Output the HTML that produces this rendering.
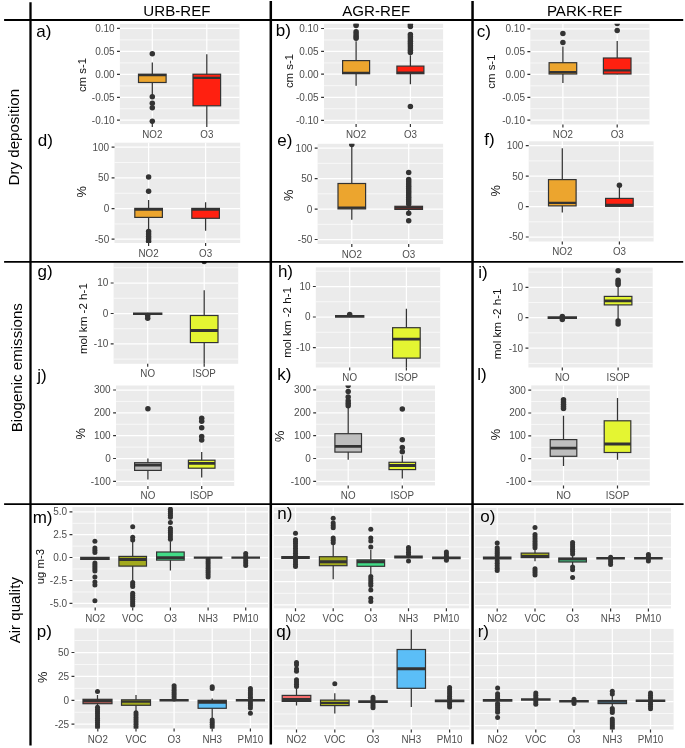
<!DOCTYPE html>
<html lang="en">
<head>
<meta charset="utf-8">
<title>Boxplots: dry deposition, biogenic emissions, air quality</title>
<style>
html,body{margin:0;padding:0;background:#fff;}
body{width:685px;height:748px;overflow:hidden;font-family:"Liberation Sans",Arial,Helvetica,sans-serif;}
svg{display:block;}
</style>
</head>
<body>
<svg width="685" height="748" viewBox="0 0 685 748" font-family="'Liberation Sans', Arial, Helvetica, sans-serif">
<rect width="685" height="748" fill="#fff"/>
<g>
<clipPath id="c1"><rect x="119.9" y="23.9" width="119.6" height="100.2"/></clipPath>
<rect x="119.9" y="23.9" width="119.6" height="100.2" fill="#ebebeb"/>
<path d="M119.9 39.88H239.5M119.9 62.88H239.5M119.9 85.88H239.5M119.9 108.78H239.5" stroke="#fff" stroke-opacity="0.95" stroke-width="0.7" fill="none"/>
<path d="M119.9 28.4H239.5M119.9 51.4H239.5M119.9 74.4H239.5M119.9 97.3H239.5M119.9 120.2H239.5M152.3 23.9V124.1M206.8 23.9V124.1" stroke="#fff" stroke-width="1.25" fill="none"/>
<path d="M117 28.4H119.9M117 51.4H119.9M117 74.4H119.9M117 97.3H119.9M117 120.2H119.9M152.3 124.1V127.1M206.8 124.1V127.1" stroke="#333333" stroke-width="1.2" fill="none"/>
<g font-size="10" fill="#4d4d4d" text-anchor="end">
<text x="114.6" y="31.8">0.10</text>
<text x="114.6" y="54.8">0.05</text>
<text x="114.6" y="77.8">0.00</text>
<text x="114.6" y="100.7">-0.05</text>
<text x="114.6" y="123.6">-0.10</text>
</g>
<g font-size="9.8" fill="#4d4d4d" text-anchor="middle">
<text transform="translate(152.3 138.1) scale(1 1.05)">NO2</text>
<text transform="translate(206.8 138.1) scale(1 1.05)">O3</text>
</g>
<text transform="translate(86.3 75) rotate(-90)" font-size="11.4" fill="#111" text-anchor="middle">cm s-1</text>
<g clip-path="url(#c1)">
<path d="M152.3 62.4V96.8" stroke="#333333" stroke-width="1.25" fill="none"/>
<circle cx="152.3" cy="53.8" r="2.75" fill="#333333"/>
<circle cx="152.3" cy="96.8" r="2.75" fill="#333333"/>
<circle cx="152.3" cy="103.3" r="2.75" fill="#333333"/>
<circle cx="152.3" cy="107.8" r="2.75" fill="#333333"/>
<circle cx="152.3" cy="121.3" r="2.75" fill="#333333"/>
<rect x="138.5" y="74.2" width="27.6" height="8.3" fill="#eca52e" stroke="#333333" stroke-width="1.2"/>
<path d="M138.5 75.2H166.1" stroke="#333333" stroke-width="2.3" fill="none"/>
<path d="M206.8 54.3V126.7" stroke="#333333" stroke-width="1.25" fill="none"/>
<rect x="193" y="74.2" width="27.6" height="31.6" fill="#ff2010" stroke="#333333" stroke-width="1.2"/>
<path d="M193 77.9H220.6" stroke="#333333" stroke-width="2.3" fill="none"/>
</g>
</g>
<g>
<clipPath id="c2"><rect x="114.5" y="142.7" width="125.7" height="100.3"/></clipPath>
<rect x="114.5" y="142.7" width="125.7" height="100.3" fill="#ebebeb"/>
<path d="M114.5 162.45H240.2M114.5 193.25H240.2M114.5 223.95H240.2" stroke="#fff" stroke-opacity="0.95" stroke-width="0.7" fill="none"/>
<path d="M114.5 147.1H240.2M114.5 177.9H240.2M114.5 208.6H240.2M114.5 239.2H240.2M148.6 142.7V243M205.6 142.7V243" stroke="#fff" stroke-width="1.25" fill="none"/>
<path d="M111.6 147.1H114.5M111.6 177.9H114.5M111.6 208.6H114.5M111.6 239.2H114.5M148.6 243V246M205.6 243V246" stroke="#333333" stroke-width="1.2" fill="none"/>
<g font-size="10" fill="#4d4d4d" text-anchor="end">
<text x="109.2" y="150.5">100</text>
<text x="109.2" y="181.3">50</text>
<text x="109.2" y="212">0</text>
<text x="109.2" y="242.6">-50</text>
</g>
<g font-size="9.8" fill="#4d4d4d" text-anchor="middle">
<text transform="translate(148.6 256.6) scale(1 1.05)">NO2</text>
<text transform="translate(205.6 256.6) scale(1 1.05)">O3</text>
</g>
<text transform="translate(86.3 191.8) rotate(-90)" font-size="12.8" fill="#111" text-anchor="middle">%</text>
<g clip-path="url(#c2)">
<path d="M148.6 200V231" stroke="#333333" stroke-width="1.25" fill="none"/>
<circle cx="148.6" cy="177" r="2.75" fill="#333333"/>
<circle cx="148.6" cy="191.3" r="2.75" fill="#333333"/>
<circle cx="148.6" cy="231.5" r="2.75" fill="#333333"/>
<circle cx="148.6" cy="233.95" r="2.75" fill="#333333"/>
<circle cx="148.6" cy="236.4" r="2.75" fill="#333333"/>
<circle cx="148.6" cy="238.85" r="2.75" fill="#333333"/>
<circle cx="148.6" cy="241.3" r="2.75" fill="#333333"/>
<rect x="134.8" y="208.4" width="27.6" height="9" fill="#eca52e" stroke="#333333" stroke-width="1.2"/>
<path d="M134.8 209.6H162.4" stroke="#333333" stroke-width="2.3" fill="none"/>
<path d="M205.6 202.3V230.8" stroke="#333333" stroke-width="1.25" fill="none"/>
<rect x="191.8" y="208.4" width="27.6" height="9.9" fill="#ff2010" stroke="#333333" stroke-width="1.2"/>
<path d="M191.8 209.6H219.4" stroke="#333333" stroke-width="2.3" fill="none"/>
</g>
</g>
<g>
<clipPath id="c3"><rect x="324" y="23.8" width="119.1" height="100.2"/></clipPath>
<rect x="324" y="23.8" width="119.1" height="100.2" fill="#ebebeb"/>
<path d="M324 39.98H443.1M324 62.93H443.1M324 85.67H443.1M324 108.77H443.1" stroke="#fff" stroke-opacity="0.95" stroke-width="0.7" fill="none"/>
<path d="M324 28.5H443.1M324 51.45H443.1M324 74.2H443.1M324 97.3H443.1M324 120.3H443.1M356.1 23.8V124M410.4 23.8V124" stroke="#fff" stroke-width="1.25" fill="none"/>
<path d="M321.1 28.5H324M321.1 51.45H324M321.1 74.2H324M321.1 97.3H324M321.1 120.3H324M356.1 124V127M410.4 124V127" stroke="#333333" stroke-width="1.2" fill="none"/>
<g font-size="10" fill="#4d4d4d" text-anchor="end">
<text x="318.7" y="31.9">0.10</text>
<text x="318.7" y="54.85">0.05</text>
<text x="318.7" y="77.6">0.00</text>
<text x="318.7" y="100.7">-0.05</text>
<text x="318.7" y="123.7">-0.10</text>
</g>
<g font-size="9.8" fill="#4d4d4d" text-anchor="middle">
<text transform="translate(356.1 138.1) scale(1 1.05)">NO2</text>
<text transform="translate(410.4 138.1) scale(1 1.05)">O3</text>
</g>
<text transform="translate(292.6 71) rotate(-90)" font-size="11.4" fill="#111" text-anchor="middle">cm s-1</text>
<g clip-path="url(#c3)">
<path d="M356.1 41.3V85.7" stroke="#333333" stroke-width="1.25" fill="none"/>
<circle cx="356.1" cy="24" r="2.75" fill="#333333"/>
<circle cx="356.1" cy="25.6" r="2.75" fill="#333333"/>
<circle cx="356.1" cy="31.8" r="2.75" fill="#333333"/>
<circle cx="356.1" cy="33.97" r="2.75" fill="#333333"/>
<circle cx="356.1" cy="36.13" r="2.75" fill="#333333"/>
<circle cx="356.1" cy="38.3" r="2.75" fill="#333333"/>
<rect x="342.6" y="60.6" width="27" height="13.1" fill="#eca52e" stroke="#333333" stroke-width="1.2"/>
<path d="M342.6 72.9H369.6" stroke="#333333" stroke-width="2.3" fill="none"/>
<path d="M410.4 55.3V84.2" stroke="#333333" stroke-width="1.25" fill="none"/>
<circle cx="410.4" cy="24.5" r="2.75" fill="#333333"/>
<circle cx="410.4" cy="26.5" r="2.75" fill="#333333"/>
<circle cx="410.4" cy="34.4" r="2.75" fill="#333333"/>
<circle cx="410.4" cy="36.66" r="2.75" fill="#333333"/>
<circle cx="410.4" cy="38.92" r="2.75" fill="#333333"/>
<circle cx="410.4" cy="41.19" r="2.75" fill="#333333"/>
<circle cx="410.4" cy="43.45" r="2.75" fill="#333333"/>
<circle cx="410.4" cy="45.71" r="2.75" fill="#333333"/>
<circle cx="410.4" cy="47.98" r="2.75" fill="#333333"/>
<circle cx="410.4" cy="50.24" r="2.75" fill="#333333"/>
<circle cx="410.4" cy="52.5" r="2.75" fill="#333333"/>
<circle cx="410.4" cy="106.4" r="2.75" fill="#333333"/>
<rect x="396.9" y="66.1" width="27" height="7.6" fill="#ff2010" stroke="#333333" stroke-width="1.2"/>
<path d="M396.9 72.7H423.9" stroke="#333333" stroke-width="2.3" fill="none"/>
</g>
</g>
<g>
<clipPath id="c4"><rect x="317.6" y="143.8" width="125.5" height="100.2"/></clipPath>
<rect x="317.6" y="143.8" width="125.5" height="100.2" fill="#ebebeb"/>
<path d="M317.6 163.33H443.1M317.6 193.83H443.1M317.6 224.33H443.1" stroke="#fff" stroke-opacity="0.95" stroke-width="0.7" fill="none"/>
<path d="M317.6 148.1H443.1M317.6 178.6H443.1M317.6 209.1H443.1M317.6 239.5H443.1M351.8 143.8V244M408.7 143.8V244" stroke="#fff" stroke-width="1.25" fill="none"/>
<path d="M314.7 148.1H317.6M314.7 178.6H317.6M314.7 209.1H317.6M314.7 239.5H317.6M351.8 244V247M408.7 244V247" stroke="#333333" stroke-width="1.2" fill="none"/>
<g font-size="10" fill="#4d4d4d" text-anchor="end">
<text x="312.3" y="151.5">100</text>
<text x="312.3" y="182">50</text>
<text x="312.3" y="212.5">0</text>
<text x="312.3" y="242.9">-50</text>
</g>
<g font-size="9.8" fill="#4d4d4d" text-anchor="middle">
<text transform="translate(351.8 257.7) scale(1 1.05)">NO2</text>
<text transform="translate(408.7 257.7) scale(1 1.05)">O3</text>
</g>
<text transform="translate(293.3 195.4) rotate(-90)" font-size="12.8" fill="#111" text-anchor="middle">%</text>
<g clip-path="url(#c4)">
<path d="M351.8 143.8V219.7" stroke="#333333" stroke-width="1.25" fill="none"/>
<circle cx="351.8" cy="144.5" r="2.75" fill="#333333"/>
<rect x="338" y="183.5" width="27.6" height="25.4" fill="#eca52e" stroke="#333333" stroke-width="1.2"/>
<path d="M338 207.6H365.6" stroke="#333333" stroke-width="2.3" fill="none"/>
<path d="M408.7 203V211" stroke="#333333" stroke-width="1.25" fill="none"/>
<circle cx="408.7" cy="172.4" r="2.75" fill="#333333"/>
<circle cx="408.7" cy="179.5" r="2.75" fill="#333333"/>
<circle cx="408.7" cy="181.73" r="2.75" fill="#333333"/>
<circle cx="408.7" cy="183.95" r="2.75" fill="#333333"/>
<circle cx="408.7" cy="186.18" r="2.75" fill="#333333"/>
<circle cx="408.7" cy="188.41" r="2.75" fill="#333333"/>
<circle cx="408.7" cy="190.64" r="2.75" fill="#333333"/>
<circle cx="408.7" cy="192.86" r="2.75" fill="#333333"/>
<circle cx="408.7" cy="195.09" r="2.75" fill="#333333"/>
<circle cx="408.7" cy="197.32" r="2.75" fill="#333333"/>
<circle cx="408.7" cy="199.55" r="2.75" fill="#333333"/>
<circle cx="408.7" cy="201.77" r="2.75" fill="#333333"/>
<circle cx="408.7" cy="204" r="2.75" fill="#333333"/>
<circle cx="408.7" cy="213.2" r="2.75" fill="#333333"/>
<circle cx="408.7" cy="220.8" r="2.75" fill="#333333"/>
<rect x="394.9" y="206.3" width="27.6" height="3.1" fill="#ff2010" stroke="#333333" stroke-width="1.2"/>
<path d="M394.9 207.7H422.5" stroke="#333333" stroke-width="1.9" fill="none"/>
</g>
</g>
<g>
<clipPath id="c5"><rect x="530.3" y="23.8" width="119.2" height="100.7"/></clipPath>
<rect x="530.3" y="23.8" width="119.2" height="100.7" fill="#ebebeb"/>
<path d="M530.3 40.21H649.5M530.3 63.01H649.5M530.3 85.81H649.5M530.3 108.71H649.5" stroke="#fff" stroke-opacity="0.95" stroke-width="0.7" fill="none"/>
<path d="M530.3 28.8H649.5M530.3 51.6H649.5M530.3 74.4H649.5M530.3 97.3H649.5M530.3 120.1H649.5M562.9 23.8V124.5M617.2 23.8V124.5" stroke="#fff" stroke-width="1.25" fill="none"/>
<path d="M527.4 28.8H530.3M527.4 51.6H530.3M527.4 74.4H530.3M527.4 97.3H530.3M527.4 120.1H530.3M562.9 124.5V127.5M617.2 124.5V127.5" stroke="#333333" stroke-width="1.2" fill="none"/>
<g font-size="10" fill="#4d4d4d" text-anchor="end">
<text x="525" y="32.2">0.10</text>
<text x="525" y="55">0.05</text>
<text x="525" y="77.8">0.00</text>
<text x="525" y="100.7">-0.05</text>
<text x="525" y="123.5">-0.10</text>
</g>
<g font-size="9.8" fill="#4d4d4d" text-anchor="middle">
<text transform="translate(562.9 138.4) scale(1 1.05)">NO2</text>
<text transform="translate(617.2 138.4) scale(1 1.05)">O3</text>
</g>
<text transform="translate(495 71.6) rotate(-90)" font-size="11.4" fill="#111" text-anchor="middle">cm s-1</text>
<g clip-path="url(#c5)">
<path d="M562.9 46.4V83.1" stroke="#333333" stroke-width="1.25" fill="none"/>
<circle cx="562.9" cy="33.5" r="2.75" fill="#333333"/>
<circle cx="562.9" cy="42.6" r="2.75" fill="#333333"/>
<rect x="549.1" y="62.7" width="27.6" height="11.3" fill="#eca52e" stroke="#333333" stroke-width="1.2"/>
<path d="M549.1 72.2H576.7" stroke="#333333" stroke-width="2.3" fill="none"/>
<path d="M617.2 41V74.3" stroke="#333333" stroke-width="1.25" fill="none"/>
<circle cx="617.2" cy="30.4" r="2.75" fill="#333333"/>
<circle cx="617.2" cy="23.4" r="2.75" fill="#333333"/>
<rect x="603.4" y="58" width="27.6" height="16" fill="#ff2010" stroke="#333333" stroke-width="1.2"/>
<path d="M603.4 70.3H631" stroke="#333333" stroke-width="2.3" fill="none"/>
</g>
</g>
<g>
<clipPath id="c6"><rect x="528.7" y="141.3" width="124.9" height="100.2"/></clipPath>
<rect x="528.7" y="141.3" width="124.9" height="100.2" fill="#ebebeb"/>
<path d="M528.7 160.92H653.6M528.7 191.32H653.6M528.7 221.82H653.6" stroke="#fff" stroke-opacity="0.95" stroke-width="0.7" fill="none"/>
<path d="M528.7 145.7H653.6M528.7 176.1H653.6M528.7 206.6H653.6M528.7 237H653.6M562.3 141.3V241.5M619.4 141.3V241.5" stroke="#fff" stroke-width="1.25" fill="none"/>
<path d="M525.8 145.7H528.7M525.8 176.1H528.7M525.8 206.6H528.7M525.8 237H528.7M562.3 241.5V244.5M619.4 241.5V244.5" stroke="#333333" stroke-width="1.2" fill="none"/>
<g font-size="10" fill="#4d4d4d" text-anchor="end">
<text x="523.4" y="149.1">100</text>
<text x="523.4" y="179.5">50</text>
<text x="523.4" y="210">0</text>
<text x="523.4" y="240.4">-50</text>
</g>
<g font-size="9.8" fill="#4d4d4d" text-anchor="middle">
<text transform="translate(562.3 255.1) scale(1 1.05)">NO2</text>
<text transform="translate(619.4 255.1) scale(1 1.05)">O3</text>
</g>
<text transform="translate(500.4 190.9) rotate(-90)" font-size="12.8" fill="#111" text-anchor="middle">%</text>
<g clip-path="url(#c6)">
<path d="M562.3 148.2V212.5" stroke="#333333" stroke-width="1.25" fill="none"/>
<rect x="548.5" y="179.6" width="27.6" height="26.3" fill="#eca52e" stroke="#333333" stroke-width="1.2"/>
<path d="M548.5 202.8H576.1" stroke="#333333" stroke-width="2.3" fill="none"/>
<path d="M619.4 185.2V206.6" stroke="#333333" stroke-width="1.25" fill="none"/>
<circle cx="619.4" cy="185.2" r="2.75" fill="#333333"/>
<rect x="605.6" y="198.4" width="27.6" height="7.9" fill="#ff2010" stroke="#333333" stroke-width="1.2"/>
<path d="M605.6 205H633.2" stroke="#333333" stroke-width="2.3" fill="none"/>
</g>
</g>
<g>
<clipPath id="c7"><rect x="113.6" y="261.9" width="124.6" height="101.9"/></clipPath>
<rect x="113.6" y="263" width="124.6" height="100.8" fill="#ebebeb"/>
<path d="M113.6 267.77H238.2M113.6 298.23H238.2M113.6 328.73H238.2M113.6 359.12H238.2" stroke="#fff" stroke-opacity="0.95" stroke-width="0.7" fill="none"/>
<path d="M113.6 283H238.2M113.6 313.5H238.2M113.6 343.9H238.2M147.7 263V363.8M204.2 263V363.8" stroke="#fff" stroke-width="1.25" fill="none"/>
<path d="M110.7 283H113.6M110.7 313.5H113.6M110.7 343.9H113.6M147.7 363.8V366.8M204.2 363.8V366.8" stroke="#333333" stroke-width="1.2" fill="none"/>
<g font-size="10" fill="#4d4d4d" text-anchor="end">
<text x="108.3" y="286.4">10</text>
<text x="108.3" y="316.9">0</text>
<text x="108.3" y="347.3">-10</text>
</g>
<g font-size="9.8" fill="#4d4d4d" text-anchor="middle">
<text transform="translate(147.7 377.3) scale(1 1.05)">NO</text>
<text transform="translate(204.2 377.3) scale(1 1.05)">ISOP</text>
</g>
<text transform="translate(86.9 318.6) rotate(-90)" font-size="11.6" fill="#111" text-anchor="middle">mol km -2 h-1</text>
<g clip-path="url(#c7)">
<circle cx="147.7" cy="315.5" r="2.75" fill="#333333"/>
<circle cx="147.7" cy="318.2" r="2.75" fill="#333333"/>
<path d="M133 313.7H162.4" stroke="#333333" stroke-width="2.6" fill="none"/>
<path d="M204.2 290.2V366.6" stroke="#333333" stroke-width="1.25" fill="none"/>
<circle cx="204.2" cy="261.5" r="2.75" fill="#333333"/>
<rect x="190.4" y="315.5" width="27.6" height="27.1" fill="#e4f532" stroke="#333333" stroke-width="1.2"/>
<path d="M190.4 330.5H218" stroke="#333333" stroke-width="2.8" fill="none"/>
</g>
</g>
<g>
<clipPath id="c8"><rect x="116" y="385.5" width="118.2" height="100.5"/></clipPath>
<rect x="116" y="385.5" width="118.2" height="100.5" fill="#ebebeb"/>
<path d="M116 401.43H234.2M116 424.23H234.2M116 447.12H234.2M116 469.93H234.2" stroke="#fff" stroke-opacity="0.95" stroke-width="0.7" fill="none"/>
<path d="M116 390H234.2M116 412.8H234.2M116 435.7H234.2M116 458.5H234.2M116 481.4H234.2M147.9 385.5V486M201.7 385.5V486" stroke="#fff" stroke-width="1.25" fill="none"/>
<path d="M113.1 390H116M113.1 412.8H116M113.1 435.7H116M113.1 458.5H116M113.1 481.4H116M147.9 486V489M201.7 486V489" stroke="#333333" stroke-width="1.2" fill="none"/>
<g font-size="10" fill="#4d4d4d" text-anchor="end">
<text x="110.7" y="393.4">300</text>
<text x="110.7" y="416.2">200</text>
<text x="110.7" y="439.1">100</text>
<text x="110.7" y="461.9">0</text>
<text x="110.7" y="484.8">-100</text>
</g>
<g font-size="9.8" fill="#4d4d4d" text-anchor="middle">
<text transform="translate(147.9 499.3) scale(1 1.05)">NO</text>
<text transform="translate(201.7 499.3) scale(1 1.05)">ISOP</text>
</g>
<text transform="translate(84.6 433.8) rotate(-90)" font-size="12.8" fill="#111" text-anchor="middle">%</text>
<g clip-path="url(#c8)">
<path d="M147.9 458.5V479.6" stroke="#333333" stroke-width="1.25" fill="none"/>
<circle cx="147.9" cy="408.8" r="2.75" fill="#333333"/>
<rect x="134.6" y="462.7" width="26.6" height="7.7" fill="#bebebe" stroke="#333333" stroke-width="1.2"/>
<path d="M134.6 465.2H161.2" stroke="#333333" stroke-width="2.8" fill="none"/>
<path d="M201.7 452.1V477.6" stroke="#333333" stroke-width="1.25" fill="none"/>
<circle cx="201.7" cy="418.3" r="2.75" fill="#333333"/>
<circle cx="201.7" cy="421.3" r="2.75" fill="#333333"/>
<circle cx="201.7" cy="427.7" r="2.75" fill="#333333"/>
<circle cx="201.7" cy="436.6" r="2.75" fill="#333333"/>
<circle cx="201.7" cy="439.9" r="2.75" fill="#333333"/>
<rect x="188.4" y="460.2" width="26.6" height="8" fill="#e4f532" stroke="#333333" stroke-width="1.2"/>
<path d="M188.4 463.4H215" stroke="#333333" stroke-width="2.8" fill="none"/>
</g>
</g>
<g>
<clipPath id="c9"><rect x="315.8" y="267.3" width="124.4" height="100.2"/></clipPath>
<rect x="315.8" y="267.3" width="124.4" height="100.2" fill="#ebebeb"/>
<path d="M315.8 271.23H440.2M315.8 301.77H440.2M315.8 332.27H440.2M315.8 362.88H440.2" stroke="#fff" stroke-opacity="0.95" stroke-width="0.7" fill="none"/>
<path d="M315.8 286.5H440.2M315.8 317H440.2M315.8 347.6H440.2M349.7 267.3V367.5M406.4 267.3V367.5" stroke="#fff" stroke-width="1.25" fill="none"/>
<path d="M312.9 286.5H315.8M312.9 317H315.8M312.9 347.6H315.8M349.7 367.5V370.5M406.4 367.5V370.5" stroke="#333333" stroke-width="1.2" fill="none"/>
<g font-size="10" fill="#4d4d4d" text-anchor="end">
<text x="310.5" y="289.9">10</text>
<text x="310.5" y="320.4">0</text>
<text x="310.5" y="351">-10</text>
</g>
<g font-size="9.8" fill="#4d4d4d" text-anchor="middle">
<text transform="translate(349.7 381.1) scale(1 1.05)">NO</text>
<text transform="translate(406.4 381.1) scale(1 1.05)">ISOP</text>
</g>
<text transform="translate(291 322.4) rotate(-90)" font-size="11.6" fill="#111" text-anchor="middle">mol km -2 h-1</text>
<g clip-path="url(#c9)">
<circle cx="349.7" cy="314.6" r="2.75" fill="#333333"/>
<path d="M335 316.4H364.4" stroke="#333333" stroke-width="2.6" fill="none"/>
<path d="M406.4 308.7V370.3" stroke="#333333" stroke-width="1.25" fill="none"/>
<rect x="392.6" y="327.7" width="27.6" height="30.4" fill="#e4f532" stroke="#333333" stroke-width="1.2"/>
<path d="M392.6 339.1H420.2" stroke="#333333" stroke-width="2.8" fill="none"/>
</g>
</g>
<g>
<clipPath id="c10"><rect x="316.1" y="385.5" width="118.9" height="100"/></clipPath>
<rect x="316.1" y="385.5" width="118.9" height="100" fill="#ebebeb"/>
<path d="M316.1 401.32H435M316.1 424.23H435M316.1 447.12H435M316.1 469.93H435" stroke="#fff" stroke-opacity="0.95" stroke-width="0.7" fill="none"/>
<path d="M316.1 389.9H435M316.1 412.8H435M316.1 435.7H435M316.1 458.5H435M316.1 481.3H435M348.2 385.5V485.5M402.3 385.5V485.5" stroke="#fff" stroke-width="1.25" fill="none"/>
<path d="M313.2 389.9H316.1M313.2 412.8H316.1M313.2 435.7H316.1M313.2 458.5H316.1M313.2 481.3H316.1M348.2 485.5V488.5M402.3 485.5V488.5" stroke="#333333" stroke-width="1.2" fill="none"/>
<g font-size="10" fill="#4d4d4d" text-anchor="end">
<text x="310.8" y="393.3">300</text>
<text x="310.8" y="416.2">200</text>
<text x="310.8" y="439.1">100</text>
<text x="310.8" y="461.9">0</text>
<text x="310.8" y="484.7">-100</text>
</g>
<g font-size="9.8" fill="#4d4d4d" text-anchor="middle">
<text transform="translate(348.2 499.3) scale(1 1.05)">NO</text>
<text transform="translate(402.3 499.3) scale(1 1.05)">ISOP</text>
</g>
<text transform="translate(284 436.3) rotate(-90)" font-size="12.8" fill="#111" text-anchor="middle">%</text>
<g clip-path="url(#c10)">
<path d="M348.2 407.1V459.7" stroke="#333333" stroke-width="1.25" fill="none"/>
<circle cx="348.2" cy="385.6" r="2.75" fill="#333333"/>
<circle cx="348.2" cy="391.6" r="2.75" fill="#333333"/>
<circle cx="348.2" cy="396.9" r="2.75" fill="#333333"/>
<circle cx="348.2" cy="400.7" r="2.75" fill="#333333"/>
<circle cx="348.2" cy="403.2" r="2.75" fill="#333333"/>
<circle cx="348.2" cy="405.7" r="2.75" fill="#333333"/>
<rect x="334.9" y="433.7" width="26.6" height="18.4" fill="#bebebe" stroke="#333333" stroke-width="1.2"/>
<path d="M334.9 446.3H361.5" stroke="#333333" stroke-width="2.8" fill="none"/>
<path d="M402.3 455.3V478.6" stroke="#333333" stroke-width="1.25" fill="none"/>
<circle cx="402.3" cy="408.9" r="2.75" fill="#333333"/>
<circle cx="402.3" cy="439.8" r="2.75" fill="#333333"/>
<circle cx="402.3" cy="447.4" r="2.75" fill="#333333"/>
<circle cx="402.3" cy="451.8" r="2.75" fill="#333333"/>
<rect x="389" y="462.3" width="26.6" height="7.3" fill="#e4f532" stroke="#333333" stroke-width="1.2"/>
<path d="M389 465.5H415.6" stroke="#333333" stroke-width="2.8" fill="none"/>
</g>
</g>
<g>
<clipPath id="c11"><rect x="528.4" y="267.6" width="124.3" height="99.9"/></clipPath>
<rect x="528.4" y="267.6" width="124.3" height="99.9" fill="#ebebeb"/>
<path d="M528.4 272.08H652.7M528.4 302.52H652.7M528.4 332.83H652.7M528.4 363.42H652.7" stroke="#fff" stroke-opacity="0.95" stroke-width="0.7" fill="none"/>
<path d="M528.4 287.3H652.7M528.4 317.6H652.7M528.4 348.2H652.7M562.3 267.6V367.5M618.1 267.6V367.5" stroke="#fff" stroke-width="1.25" fill="none"/>
<path d="M525.5 287.3H528.4M525.5 317.6H528.4M525.5 348.2H528.4M562.3 367.5V370.5M618.1 367.5V370.5" stroke="#333333" stroke-width="1.2" fill="none"/>
<g font-size="10" fill="#4d4d4d" text-anchor="end">
<text x="523.1" y="290.7">10</text>
<text x="523.1" y="321">0</text>
<text x="523.1" y="351.6">-10</text>
</g>
<g font-size="9.8" fill="#4d4d4d" text-anchor="middle">
<text transform="translate(562.3 381.4) scale(1 1.05)">NO</text>
<text transform="translate(618.1 381.4) scale(1 1.05)">ISOP</text>
</g>
<text transform="translate(501.1 323.9) rotate(-90)" font-size="11.6" fill="#111" text-anchor="middle">mol km -2 h-1</text>
<g clip-path="url(#c11)">
<circle cx="562.3" cy="316.4" r="2.75" fill="#333333"/>
<circle cx="562.3" cy="319.6" r="2.75" fill="#333333"/>
<path d="M547.6 317.6H577" stroke="#333333" stroke-width="2.6" fill="none"/>
<path d="M618.1 286.4V319.3" stroke="#333333" stroke-width="1.25" fill="none"/>
<circle cx="618.1" cy="270.7" r="2.75" fill="#333333"/>
<circle cx="618.1" cy="280.3" r="2.75" fill="#333333"/>
<circle cx="618.1" cy="282.45" r="2.75" fill="#333333"/>
<circle cx="618.1" cy="284.6" r="2.75" fill="#333333"/>
<circle cx="618.1" cy="321" r="2.75" fill="#333333"/>
<circle cx="618.1" cy="324" r="2.75" fill="#333333"/>
<rect x="604.3" y="296.4" width="27.6" height="8.5" fill="#e4f532" stroke="#333333" stroke-width="1.2"/>
<path d="M604.3 300.8H631.9" stroke="#333333" stroke-width="2.8" fill="none"/>
</g>
</g>
<g>
<clipPath id="c12"><rect x="531.2" y="385.4" width="118.6" height="100.1"/></clipPath>
<rect x="531.2" y="385.4" width="118.6" height="100.1" fill="#ebebeb"/>
<path d="M531.2 401.51H649.8M531.2 424.41H649.8M531.2 447.31H649.8M531.2 470.01H649.8" stroke="#fff" stroke-opacity="0.95" stroke-width="0.7" fill="none"/>
<path d="M531.2 390.1H649.8M531.2 413H649.8M531.2 435.9H649.8M531.2 458.6H649.8M531.2 481.4H649.8M563.5 385.4V485.5M617.5 385.4V485.5" stroke="#fff" stroke-width="1.25" fill="none"/>
<path d="M528.3 390.1H531.2M528.3 413H531.2M528.3 435.9H531.2M528.3 458.6H531.2M528.3 481.4H531.2M563.5 485.5V488.5M617.5 485.5V488.5" stroke="#333333" stroke-width="1.2" fill="none"/>
<g font-size="10" fill="#4d4d4d" text-anchor="end">
<text x="525.9" y="393.5">300</text>
<text x="525.9" y="416.4">200</text>
<text x="525.9" y="439.3">100</text>
<text x="525.9" y="462">0</text>
<text x="525.9" y="484.8">-100</text>
</g>
<g font-size="9.8" fill="#4d4d4d" text-anchor="middle">
<text transform="translate(563.5 498.9) scale(1 1.05)">NO</text>
<text transform="translate(617.5 498.9) scale(1 1.05)">ISOP</text>
</g>
<text transform="translate(500.2 434.6) rotate(-90)" font-size="12.8" fill="#111" text-anchor="middle">%</text>
<g clip-path="url(#c12)">
<path d="M563.5 415.8V466" stroke="#333333" stroke-width="1.25" fill="none"/>
<circle cx="563.5" cy="399.8" r="2.75" fill="#333333"/>
<circle cx="563.5" cy="402" r="2.75" fill="#333333"/>
<circle cx="563.5" cy="404.2" r="2.75" fill="#333333"/>
<circle cx="563.5" cy="406.4" r="2.75" fill="#333333"/>
<circle cx="563.5" cy="408.6" r="2.75" fill="#333333"/>
<rect x="550.2" y="439.6" width="26.6" height="16.7" fill="#bebebe" stroke="#333333" stroke-width="1.2"/>
<path d="M550.2 448.1H576.8" stroke="#333333" stroke-width="2.8" fill="none"/>
<path d="M617.5 397.9V459.7" stroke="#333333" stroke-width="1.25" fill="none"/>
<rect x="604.2" y="420.8" width="26.6" height="31.7" fill="#e4f532" stroke="#333333" stroke-width="1.2"/>
<path d="M604.2 444H630.8" stroke="#333333" stroke-width="2.8" fill="none"/>
</g>
</g>
<g>
<clipPath id="c13"><rect x="72.4" y="507.1" width="195.6" height="100.5"/></clipPath>
<rect x="72.4" y="507.1" width="195.6" height="100.5" fill="#ebebeb"/>
<path d="M72.4 523.34H268M72.4 546.14H268M72.4 568.94H268M72.4 591.94H268" stroke="#fff" stroke-opacity="0.95" stroke-width="0.7" fill="none"/>
<path d="M72.4 511.9H268M72.4 534.7H268M72.4 557.5H268M72.4 580.5H268M72.4 603.4H268M95.2 507.1V607.6M132.7 507.1V607.6M170.4 507.1V607.6M208.1 507.1V607.6M245.7 507.1V607.6" stroke="#fff" stroke-width="1.25" fill="none"/>
<path d="M69.5 511.9H72.4M69.5 534.7H72.4M69.5 557.5H72.4M69.5 580.5H72.4M69.5 603.4H72.4M95.2 607.6V610.6M132.7 607.6V610.6M170.4 607.6V610.6M208.1 607.6V610.6M245.7 607.6V610.6" stroke="#333333" stroke-width="1.2" fill="none"/>
<g font-size="10" fill="#4d4d4d" text-anchor="end">
<text x="67.1" y="515.3">5.0</text>
<text x="67.1" y="538.1">2.5</text>
<text x="67.1" y="560.9">0.0</text>
<text x="67.1" y="583.9">-2.5</text>
<text x="67.1" y="606.8">-5.0</text>
</g>
<g font-size="9.8" fill="#4d4d4d" text-anchor="middle">
<text transform="translate(95.2 621.8) scale(1 1.05)">NO2</text>
<text transform="translate(132.7 621.8) scale(1 1.05)">VOC</text>
<text transform="translate(170.4 621.8) scale(1 1.05)">O3</text>
<text transform="translate(208.1 621.8) scale(1 1.05)">NH3</text>
<text transform="translate(245.7 621.8) scale(1 1.05)">PM10</text>
</g>
<text transform="translate(43.5 566.6) rotate(-90)" font-size="11.4" fill="#111" text-anchor="middle">ug m-3</text>
<g clip-path="url(#c13)">
<circle cx="94.9" cy="541.2" r="2.5" fill="#333333"/>
<circle cx="94.9" cy="547.9" r="2.5" fill="#333333"/>
<circle cx="94.9" cy="550.25" r="2.5" fill="#333333"/>
<circle cx="94.9" cy="552.6" r="2.5" fill="#333333"/>
<circle cx="94.9" cy="563" r="2.5" fill="#333333"/>
<circle cx="94.9" cy="565" r="2.5" fill="#333333"/>
<circle cx="94.9" cy="567" r="2.5" fill="#333333"/>
<circle cx="94.9" cy="569" r="2.5" fill="#333333"/>
<circle cx="94.9" cy="571" r="2.5" fill="#333333"/>
<circle cx="94.9" cy="577" r="2.5" fill="#333333"/>
<circle cx="94.9" cy="582" r="2.5" fill="#333333"/>
<circle cx="94.9" cy="584.9" r="2.5" fill="#333333"/>
<circle cx="94.9" cy="600.8" r="2.5" fill="#333333"/>
<path d="M80.1 558.3H109.7" stroke="#333333" stroke-width="3.2" fill="none"/>
<path d="M132.7 542V581.5" stroke="#333333" stroke-width="1.25" fill="none"/>
<circle cx="132.7" cy="526.8" r="2.5" fill="#333333"/>
<circle cx="132.7" cy="537.2" r="2.5" fill="#333333"/>
<circle cx="132.7" cy="540" r="2.5" fill="#333333"/>
<circle cx="132.7" cy="582.6" r="2.5" fill="#333333"/>
<circle cx="132.7" cy="584.5" r="2.5" fill="#333333"/>
<circle cx="132.7" cy="586.4" r="2.5" fill="#333333"/>
<circle cx="132.7" cy="593.2" r="2.5" fill="#333333"/>
<circle cx="132.7" cy="595.25" r="2.5" fill="#333333"/>
<circle cx="132.7" cy="597.3" r="2.5" fill="#333333"/>
<circle cx="132.7" cy="599.35" r="2.5" fill="#333333"/>
<circle cx="132.7" cy="601.4" r="2.5" fill="#333333"/>
<circle cx="132.7" cy="603.45" r="2.5" fill="#333333"/>
<circle cx="132.7" cy="605.5" r="2.5" fill="#333333"/>
<rect x="118.9" y="556.4" width="27.6" height="9.7" fill="#a3aa1e" stroke="#333333" stroke-width="1.2"/>
<path d="M118.9 559.6H146.5" stroke="#333333" stroke-width="3.0" fill="none"/>
<path d="M170.4 541.2V570.6" stroke="#333333" stroke-width="1.25" fill="none"/>
<circle cx="170.4" cy="509.2" r="2.5" fill="#333333"/>
<circle cx="170.4" cy="511.22" r="2.5" fill="#333333"/>
<circle cx="170.4" cy="513.25" r="2.5" fill="#333333"/>
<circle cx="170.4" cy="515.27" r="2.5" fill="#333333"/>
<circle cx="170.4" cy="517.3" r="2.5" fill="#333333"/>
<circle cx="170.4" cy="522.4" r="2.5" fill="#333333"/>
<circle cx="170.4" cy="528.2" r="2.5" fill="#333333"/>
<circle cx="170.4" cy="530.4" r="2.5" fill="#333333"/>
<circle cx="170.4" cy="532.6" r="2.5" fill="#333333"/>
<circle cx="170.4" cy="534.8" r="2.5" fill="#333333"/>
<circle cx="170.4" cy="537" r="2.5" fill="#333333"/>
<circle cx="170.4" cy="539.2" r="2.5" fill="#333333"/>
<rect x="156.6" y="552" width="27.6" height="8.1" fill="#41dc87" stroke="#333333" stroke-width="1.2"/>
<path d="M156.6 557.7H184.2" stroke="#333333" stroke-width="2.8" fill="none"/>
<circle cx="208.1" cy="559.5" r="2.5" fill="#333333"/>
<circle cx="208.1" cy="561.67" r="2.5" fill="#333333"/>
<circle cx="208.1" cy="563.85" r="2.5" fill="#333333"/>
<circle cx="208.1" cy="566.02" r="2.5" fill="#333333"/>
<circle cx="208.1" cy="568.2" r="2.5" fill="#333333"/>
<circle cx="208.1" cy="570.38" r="2.5" fill="#333333"/>
<circle cx="208.1" cy="572.55" r="2.5" fill="#333333"/>
<circle cx="208.1" cy="574.73" r="2.5" fill="#333333"/>
<circle cx="208.1" cy="576.9" r="2.5" fill="#333333"/>
<path d="M193.8 557.6H222.4" stroke="#333333" stroke-width="2.4" fill="none"/>
<circle cx="245.7" cy="553.6" r="2.5" fill="#333333"/>
<circle cx="245.7" cy="555.98" r="2.5" fill="#333333"/>
<circle cx="245.7" cy="558.36" r="2.5" fill="#333333"/>
<circle cx="245.7" cy="560.74" r="2.5" fill="#333333"/>
<circle cx="245.7" cy="563.12" r="2.5" fill="#333333"/>
<circle cx="245.7" cy="565.5" r="2.5" fill="#333333"/>
<path d="M231.4 557.6H260" stroke="#333333" stroke-width="2.4" fill="none"/>
</g>
</g>
<g>
<clipPath id="c14"><rect x="74.4" y="628.4" width="193.6" height="100.1"/></clipPath>
<rect x="74.4" y="628.4" width="193.6" height="100.1" fill="#ebebeb"/>
<path d="M74.4 640.55H268M74.4 664.45H268M74.4 688.35H268M74.4 712.25H268" stroke="#fff" stroke-opacity="0.95" stroke-width="0.7" fill="none"/>
<path d="M74.4 652.5H268M74.4 676.4H268M74.4 700.3H268M74.4 724.2H268M97.8 628.4V728.5M136 628.4V728.5M174.1 628.4V728.5M212.2 628.4V728.5M250.4 628.4V728.5" stroke="#fff" stroke-width="1.25" fill="none"/>
<path d="M71.5 652.5H74.4M71.5 676.4H74.4M71.5 700.3H74.4M71.5 724.2H74.4M97.8 728.5V731.5M136 728.5V731.5M174.1 728.5V731.5M212.2 728.5V731.5M250.4 728.5V731.5" stroke="#333333" stroke-width="1.2" fill="none"/>
<g font-size="10" fill="#4d4d4d" text-anchor="end">
<text x="69.1" y="655.9">50</text>
<text x="69.1" y="679.8">25</text>
<text x="69.1" y="703.7">0</text>
<text x="69.1" y="727.6">-25</text>
</g>
<g font-size="9.8" fill="#4d4d4d" text-anchor="middle">
<text transform="translate(97.8 742.5) scale(1 1.05)">NO2</text>
<text transform="translate(136 742.5) scale(1 1.05)">VOC</text>
<text transform="translate(174.1 742.5) scale(1 1.05)">O3</text>
<text transform="translate(212.2 742.5) scale(1 1.05)">NH3</text>
<text transform="translate(250.4 742.5) scale(1 1.05)">PM10</text>
</g>
<text transform="translate(47.4 677.2) rotate(-90)" font-size="12.8" fill="#111" text-anchor="middle">%</text>
<g clip-path="url(#c14)">
<path d="M97.5 695.1V708" stroke="#333333" stroke-width="1.25" fill="none"/>
<circle cx="97.5" cy="691.6" r="2.5" fill="#333333"/>
<circle cx="97.5" cy="707.3" r="2.5" fill="#333333"/>
<circle cx="97.5" cy="709.47" r="2.5" fill="#333333"/>
<circle cx="97.5" cy="711.64" r="2.5" fill="#333333"/>
<circle cx="97.5" cy="713.81" r="2.5" fill="#333333"/>
<circle cx="97.5" cy="715.98" r="2.5" fill="#333333"/>
<circle cx="97.5" cy="718.15" r="2.5" fill="#333333"/>
<circle cx="97.5" cy="720.32" r="2.5" fill="#333333"/>
<circle cx="97.5" cy="722.49" r="2.5" fill="#333333"/>
<circle cx="97.5" cy="724.66" r="2.5" fill="#333333"/>
<circle cx="97.5" cy="726.83" r="2.5" fill="#333333"/>
<circle cx="97.5" cy="729" r="2.5" fill="#333333"/>
<rect x="83" y="699.3" width="29" height="4.4" fill="#c0625c" stroke="#333333" stroke-width="1.2"/>
<path d="M83 700.9H112" stroke="#333333" stroke-width="2.8" fill="none"/>
<path d="M136 695V712" stroke="#333333" stroke-width="1.25" fill="none"/>
<circle cx="136" cy="712.8" r="2.5" fill="#333333"/>
<circle cx="136" cy="715.11" r="2.5" fill="#333333"/>
<circle cx="136" cy="717.43" r="2.5" fill="#333333"/>
<circle cx="136" cy="719.74" r="2.5" fill="#333333"/>
<circle cx="136" cy="722.06" r="2.5" fill="#333333"/>
<circle cx="136" cy="724.37" r="2.5" fill="#333333"/>
<circle cx="136" cy="726.69" r="2.5" fill="#333333"/>
<circle cx="136" cy="729" r="2.5" fill="#333333"/>
<rect x="121.5" y="699.8" width="29" height="5.5" fill="#a3aa1e" stroke="#333333" stroke-width="1.2"/>
<path d="M121.5 701.6H150.5" stroke="#333333" stroke-width="2.4" fill="none"/>
<circle cx="174.1" cy="685.8" r="2.5" fill="#333333"/>
<circle cx="174.1" cy="688" r="2.5" fill="#333333"/>
<circle cx="174.1" cy="690.2" r="2.5" fill="#333333"/>
<circle cx="174.1" cy="692.4" r="2.5" fill="#333333"/>
<circle cx="174.1" cy="694.6" r="2.5" fill="#333333"/>
<circle cx="174.1" cy="696.8" r="2.5" fill="#333333"/>
<circle cx="174.1" cy="699" r="2.5" fill="#333333"/>
<path d="M159.5 700.2H188.7" stroke="#333333" stroke-width="2.6" fill="none"/>
<path d="M212.2 698.6V719" stroke="#333333" stroke-width="1.25" fill="none"/>
<circle cx="212.2" cy="686.8" r="2.5" fill="#333333"/>
<circle cx="212.2" cy="688.6" r="2.5" fill="#333333"/>
<circle cx="212.2" cy="720" r="2.5" fill="#333333"/>
<circle cx="212.2" cy="722.25" r="2.5" fill="#333333"/>
<circle cx="212.2" cy="724.5" r="2.5" fill="#333333"/>
<circle cx="212.2" cy="726.75" r="2.5" fill="#333333"/>
<circle cx="212.2" cy="729" r="2.5" fill="#333333"/>
<rect x="198.1" y="700.3" width="28.2" height="8" fill="#5bbef7" stroke="#333333" stroke-width="1.2"/>
<path d="M198.1 702H226.3" stroke="#333333" stroke-width="3.3" fill="none"/>
<circle cx="250.4" cy="688.6" r="2.5" fill="#333333"/>
<circle cx="250.4" cy="690.76" r="2.5" fill="#333333"/>
<circle cx="250.4" cy="692.91" r="2.5" fill="#333333"/>
<circle cx="250.4" cy="695.07" r="2.5" fill="#333333"/>
<circle cx="250.4" cy="697.22" r="2.5" fill="#333333"/>
<circle cx="250.4" cy="699.38" r="2.5" fill="#333333"/>
<circle cx="250.4" cy="701.53" r="2.5" fill="#333333"/>
<circle cx="250.4" cy="703.69" r="2.5" fill="#333333"/>
<circle cx="250.4" cy="705.84" r="2.5" fill="#333333"/>
<circle cx="250.4" cy="708" r="2.5" fill="#333333"/>
<circle cx="250.4" cy="713.3" r="2.5" fill="#333333"/>
<path d="M235.8 700.2H265" stroke="#333333" stroke-width="2.6" fill="none"/>
</g>
</g>
<g>
<clipPath id="c15"><rect x="273.7" y="507.4" width="195.4" height="100.9"/></clipPath>
<rect x="273.7" y="507.4" width="195.4" height="100.9" fill="#ebebeb"/>
<path d="M273.7 523.7H469.1M273.7 546.9H469.1M273.7 570.1H469.1M273.7 593.3H469.1" stroke="#fff" stroke-opacity="0.95" stroke-width="0.7" fill="none"/>
<path d="M273.7 512.1H469.1M273.7 535.3H469.1M273.7 558.5H469.1M273.7 581.7H469.1M273.7 604.9H469.1M295.5 507.4V608.3M333.2 507.4V608.3M370.8 507.4V608.3M408.5 507.4V608.3M446.4 507.4V608.3" stroke="#fff" stroke-width="1.25" fill="none"/>
<path d="M295.5 608.3V611.3M333.2 608.3V611.3M370.8 608.3V611.3M408.5 608.3V611.3M446.4 608.3V611.3" stroke="#333333" stroke-width="1.2" fill="none"/>
<g font-size="9.8" fill="#4d4d4d" text-anchor="middle">
<text transform="translate(295.5 622.1) scale(1 1.05)">NO2</text>
<text transform="translate(333.2 622.1) scale(1 1.05)">VOC</text>
<text transform="translate(370.8 622.1) scale(1 1.05)">O3</text>
<text transform="translate(408.5 622.1) scale(1 1.05)">NH3</text>
<text transform="translate(446.4 622.1) scale(1 1.05)">PM10</text>
</g>
<g clip-path="url(#c15)">
<circle cx="295.5" cy="533.3" r="2.5" fill="#333333"/>
<circle cx="295.5" cy="539.6" r="2.5" fill="#333333"/>
<circle cx="295.5" cy="541.6" r="2.5" fill="#333333"/>
<circle cx="295.5" cy="543.6" r="2.5" fill="#333333"/>
<circle cx="295.5" cy="546" r="2.5" fill="#333333"/>
<circle cx="295.5" cy="548.45" r="2.5" fill="#333333"/>
<circle cx="295.5" cy="550.9" r="2.5" fill="#333333"/>
<circle cx="295.5" cy="553.35" r="2.5" fill="#333333"/>
<circle cx="295.5" cy="555.8" r="2.5" fill="#333333"/>
<circle cx="295.5" cy="559.8" r="2.5" fill="#333333"/>
<circle cx="295.5" cy="562" r="2.5" fill="#333333"/>
<circle cx="295.5" cy="564.2" r="2.5" fill="#333333"/>
<circle cx="295.5" cy="566.4" r="2.5" fill="#333333"/>
<path d="M281.2 557.4H309.8" stroke="#333333" stroke-width="3.0" fill="none"/>
<path d="M333.2 544.7V579.2" stroke="#333333" stroke-width="1.25" fill="none"/>
<circle cx="333.2" cy="518.2" r="2.5" fill="#333333"/>
<circle cx="333.2" cy="523" r="2.5" fill="#333333"/>
<circle cx="333.2" cy="525.4" r="2.5" fill="#333333"/>
<circle cx="333.2" cy="527.8" r="2.5" fill="#333333"/>
<circle cx="333.2" cy="537.9" r="2.5" fill="#333333"/>
<circle cx="333.2" cy="540.3" r="2.5" fill="#333333"/>
<circle cx="333.2" cy="542.7" r="2.5" fill="#333333"/>
<rect x="319.4" y="556.7" width="27.6" height="9" fill="#a3aa1e" stroke="#333333" stroke-width="1.2"/>
<path d="M319.4 561.7H347" stroke="#333333" stroke-width="3.0" fill="none"/>
<path d="M370.8 549.9V574.5" stroke="#333333" stroke-width="1.25" fill="none"/>
<circle cx="370.8" cy="529.3" r="2.5" fill="#333333"/>
<circle cx="370.8" cy="537.9" r="2.5" fill="#333333"/>
<circle cx="370.8" cy="541" r="2.5" fill="#333333"/>
<circle cx="370.8" cy="547" r="2.5" fill="#333333"/>
<circle cx="370.8" cy="576.4" r="2.5" fill="#333333"/>
<circle cx="370.8" cy="578.7" r="2.5" fill="#333333"/>
<circle cx="370.8" cy="581" r="2.5" fill="#333333"/>
<circle cx="370.8" cy="583.3" r="2.5" fill="#333333"/>
<circle cx="370.8" cy="585.6" r="2.5" fill="#333333"/>
<circle cx="370.8" cy="589.9" r="2.5" fill="#333333"/>
<circle cx="370.8" cy="598.3" r="2.5" fill="#333333"/>
<circle cx="370.8" cy="601.4" r="2.5" fill="#333333"/>
<rect x="357" y="559.9" width="27.6" height="6.4" fill="#41dc87" stroke="#333333" stroke-width="1.2"/>
<path d="M357 561.7H384.6" stroke="#333333" stroke-width="3.0" fill="none"/>
<circle cx="408.5" cy="547.4" r="2.5" fill="#333333"/>
<circle cx="408.5" cy="549.77" r="2.5" fill="#333333"/>
<circle cx="408.5" cy="552.13" r="2.5" fill="#333333"/>
<circle cx="408.5" cy="554.5" r="2.5" fill="#333333"/>
<circle cx="408.5" cy="561" r="2.5" fill="#333333"/>
<path d="M394.2 557H422.8" stroke="#333333" stroke-width="2.8" fill="none"/>
<circle cx="446.4" cy="552.1" r="2.5" fill="#333333"/>
<circle cx="446.4" cy="554.12" r="2.5" fill="#333333"/>
<circle cx="446.4" cy="556.15" r="2.5" fill="#333333"/>
<circle cx="446.4" cy="558.18" r="2.5" fill="#333333"/>
<circle cx="446.4" cy="560.2" r="2.5" fill="#333333"/>
<path d="M432.1 557.9H460.7" stroke="#333333" stroke-width="2.6" fill="none"/>
</g>
</g>
<g>
<clipPath id="c16"><rect x="273.7" y="628.9" width="195.9" height="100.7"/></clipPath>
<rect x="273.7" y="628.9" width="195.9" height="100.7" fill="#ebebeb"/>
<path d="M273.7 640.45H469.6M273.7 664.95H469.6M273.7 689.45H469.6M273.7 713.95H469.6" stroke="#fff" stroke-opacity="0.95" stroke-width="0.7" fill="none"/>
<path d="M273.7 652.7H469.6M273.7 677.2H469.6M273.7 701.7H469.6M273.7 726.2H469.6M296.5 628.9V729.6M334.8 628.9V729.6M373 628.9V729.6M411.3 628.9V729.6M449.6 628.9V729.6" stroke="#fff" stroke-width="1.25" fill="none"/>
<path d="M296.5 729.6V732.6M334.8 729.6V732.6M373 729.6V732.6M411.3 729.6V732.6M449.6 729.6V732.6" stroke="#333333" stroke-width="1.2" fill="none"/>
<g font-size="9.8" fill="#4d4d4d" text-anchor="middle">
<text transform="translate(296.5 742.9) scale(1 1.05)">NO2</text>
<text transform="translate(334.8 742.9) scale(1 1.05)">VOC</text>
<text transform="translate(373 742.9) scale(1 1.05)">O3</text>
<text transform="translate(411.3 742.9) scale(1 1.05)">NH3</text>
<text transform="translate(449.6 742.9) scale(1 1.05)">PM10</text>
</g>
<g clip-path="url(#c16)">
<path d="M296.5 689V705.6" stroke="#333333" stroke-width="1.25" fill="none"/>
<circle cx="296.5" cy="662.5" r="2.5" fill="#333333"/>
<circle cx="296.5" cy="664.8" r="2.5" fill="#333333"/>
<circle cx="296.5" cy="669" r="2.5" fill="#333333"/>
<circle cx="296.5" cy="671.2" r="2.5" fill="#333333"/>
<circle cx="296.5" cy="679.8" r="2.5" fill="#333333"/>
<circle cx="296.5" cy="682.07" r="2.5" fill="#333333"/>
<circle cx="296.5" cy="684.33" r="2.5" fill="#333333"/>
<circle cx="296.5" cy="686.6" r="2.5" fill="#333333"/>
<rect x="282.2" y="695.4" width="28.6" height="6" fill="#f46c6c" stroke="#333333" stroke-width="1.2"/>
<path d="M282.2 699.4H310.8" stroke="#333333" stroke-width="3.0" fill="none"/>
<path d="M334.8 693.3V713.5" stroke="#333333" stroke-width="1.25" fill="none"/>
<circle cx="334.8" cy="683.7" r="2.5" fill="#333333"/>
<rect x="320.5" y="700.1" width="28.6" height="5.5" fill="#a3aa1e" stroke="#333333" stroke-width="1.2"/>
<path d="M320.5 703H349.1" stroke="#333333" stroke-width="1.8" fill="none"/>
<circle cx="373" cy="697.2" r="2.5" fill="#333333"/>
<circle cx="373" cy="699.32" r="2.5" fill="#333333"/>
<circle cx="373" cy="701.44" r="2.5" fill="#333333"/>
<circle cx="373" cy="703.56" r="2.5" fill="#333333"/>
<circle cx="373" cy="705.68" r="2.5" fill="#333333"/>
<circle cx="373" cy="707.8" r="2.5" fill="#333333"/>
<path d="M358.2 701.6H387.8" stroke="#333333" stroke-width="2.6" fill="none"/>
<path d="M411.3 629.4V707" stroke="#333333" stroke-width="1.25" fill="none"/>
<rect x="397.1" y="649.5" width="28.4" height="38.8" fill="#5bbef7" stroke="#333333" stroke-width="1.2"/>
<path d="M397.1 668.8H425.5" stroke="#333333" stroke-width="3.0" fill="none"/>
<circle cx="449.6" cy="687.6" r="2.5" fill="#333333"/>
<circle cx="449.6" cy="689.74" r="2.5" fill="#333333"/>
<circle cx="449.6" cy="691.89" r="2.5" fill="#333333"/>
<circle cx="449.6" cy="694.03" r="2.5" fill="#333333"/>
<circle cx="449.6" cy="696.18" r="2.5" fill="#333333"/>
<circle cx="449.6" cy="698.32" r="2.5" fill="#333333"/>
<circle cx="449.6" cy="700.47" r="2.5" fill="#333333"/>
<circle cx="449.6" cy="702.61" r="2.5" fill="#333333"/>
<circle cx="449.6" cy="704.76" r="2.5" fill="#333333"/>
<circle cx="449.6" cy="706.9" r="2.5" fill="#333333"/>
<path d="M434.8 700.9H464.4" stroke="#333333" stroke-width="2.6" fill="none"/>
</g>
</g>
<g>
<clipPath id="c17"><rect x="474.7" y="507.8" width="196.3" height="100.6"/></clipPath>
<rect x="474.7" y="507.8" width="196.3" height="100.6" fill="#ebebeb"/>
<path d="M474.7 523.8H671M474.7 547.2H671M474.7 570.6H671M474.7 594H671" stroke="#fff" stroke-opacity="0.95" stroke-width="0.7" fill="none"/>
<path d="M474.7 512.1H671M474.7 535.5H671M474.7 558.9H671M474.7 582.3H671M474.7 605.7H671M497.2 507.8V608.4M535 507.8V608.4M572.6 507.8V608.4M610.6 507.8V608.4M648.4 507.8V608.4" stroke="#fff" stroke-width="1.25" fill="none"/>
<path d="M497.2 608.4V611.4M535 608.4V611.4M572.6 608.4V611.4M610.6 608.4V611.4M648.4 608.4V611.4" stroke="#333333" stroke-width="1.2" fill="none"/>
<g font-size="9.8" fill="#4d4d4d" text-anchor="middle">
<text transform="translate(497.2 622.2) scale(1 1.05)">NO2</text>
<text transform="translate(535 622.2) scale(1 1.05)">VOC</text>
<text transform="translate(572.6 622.2) scale(1 1.05)">O3</text>
<text transform="translate(610.6 622.2) scale(1 1.05)">NH3</text>
<text transform="translate(648.4 622.2) scale(1 1.05)">PM10</text>
</g>
<g clip-path="url(#c17)">
<circle cx="497.2" cy="542.9" r="2.5" fill="#333333"/>
<circle cx="497.2" cy="547.7" r="2.5" fill="#333333"/>
<circle cx="497.2" cy="549.68" r="2.5" fill="#333333"/>
<circle cx="497.2" cy="551.65" r="2.5" fill="#333333"/>
<circle cx="497.2" cy="553.62" r="2.5" fill="#333333"/>
<circle cx="497.2" cy="555.6" r="2.5" fill="#333333"/>
<circle cx="497.2" cy="560.8" r="2.5" fill="#333333"/>
<circle cx="497.2" cy="563.25" r="2.5" fill="#333333"/>
<circle cx="497.2" cy="565.7" r="2.5" fill="#333333"/>
<circle cx="497.2" cy="568.15" r="2.5" fill="#333333"/>
<circle cx="497.2" cy="570.6" r="2.5" fill="#333333"/>
<path d="M482.9 557.9H511.5" stroke="#333333" stroke-width="3.0" fill="none"/>
<path d="M535 549V561.3" stroke="#333333" stroke-width="1.25" fill="none"/>
<circle cx="535" cy="527.5" r="2.5" fill="#333333"/>
<circle cx="535" cy="534.6" r="2.5" fill="#333333"/>
<circle cx="535" cy="536.8" r="2.5" fill="#333333"/>
<circle cx="535" cy="539" r="2.5" fill="#333333"/>
<circle cx="535" cy="541.2" r="2.5" fill="#333333"/>
<circle cx="535" cy="543.4" r="2.5" fill="#333333"/>
<circle cx="535" cy="545.6" r="2.5" fill="#333333"/>
<circle cx="535" cy="547.8" r="2.5" fill="#333333"/>
<circle cx="535" cy="568.7" r="2.5" fill="#333333"/>
<circle cx="535" cy="570.77" r="2.5" fill="#333333"/>
<circle cx="535" cy="572.83" r="2.5" fill="#333333"/>
<circle cx="535" cy="574.9" r="2.5" fill="#333333"/>
<rect x="521.2" y="553.1" width="27.6" height="4.5" fill="#a3aa1e" stroke="#333333" stroke-width="1.2"/>
<path d="M521.2 556.3H548.8" stroke="#333333" stroke-width="2.4" fill="none"/>
<path d="M572.6 554V565" stroke="#333333" stroke-width="1.25" fill="none"/>
<circle cx="572.6" cy="542.4" r="2.5" fill="#333333"/>
<circle cx="572.6" cy="544.7" r="2.5" fill="#333333"/>
<circle cx="572.6" cy="547" r="2.5" fill="#333333"/>
<circle cx="572.6" cy="549.3" r="2.5" fill="#333333"/>
<circle cx="572.6" cy="551.6" r="2.5" fill="#333333"/>
<circle cx="572.6" cy="553.9" r="2.5" fill="#333333"/>
<circle cx="572.6" cy="567" r="2.5" fill="#333333"/>
<circle cx="572.6" cy="569.8" r="2.5" fill="#333333"/>
<circle cx="572.6" cy="577.6" r="2.5" fill="#333333"/>
<rect x="558.8" y="558" width="27.6" height="4" fill="#3fae75" stroke="#333333" stroke-width="1.2"/>
<path d="M558.8 559.1H586.4" stroke="#333333" stroke-width="2.4" fill="none"/>
<circle cx="610.6" cy="557.3" r="2.5" fill="#333333"/>
<circle cx="610.6" cy="559.67" r="2.5" fill="#333333"/>
<circle cx="610.6" cy="562.03" r="2.5" fill="#333333"/>
<circle cx="610.6" cy="564.4" r="2.5" fill="#333333"/>
<path d="M596.3 558.3H624.9" stroke="#333333" stroke-width="2.6" fill="none"/>
<circle cx="648.4" cy="554.4" r="2.5" fill="#333333"/>
<circle cx="648.4" cy="556.57" r="2.5" fill="#333333"/>
<circle cx="648.4" cy="558.73" r="2.5" fill="#333333"/>
<circle cx="648.4" cy="560.9" r="2.5" fill="#333333"/>
<path d="M634.1 558.3H662.7" stroke="#333333" stroke-width="2.6" fill="none"/>
</g>
</g>
<g>
<clipPath id="c18"><rect x="474.8" y="628.9" width="198.8" height="100.7"/></clipPath>
<rect x="474.8" y="628.9" width="198.8" height="100.7" fill="#ebebeb"/>
<path d="M474.8 641.62H673.6M474.8 665.58H673.6M474.8 689.58H673.6M474.8 713.48H673.6" stroke="#fff" stroke-opacity="0.95" stroke-width="0.7" fill="none"/>
<path d="M474.8 653.6H673.6M474.8 677.6H673.6M474.8 701.5H673.6M474.8 725.5H673.6M497.6 628.9V729.6M535.8 628.9V729.6M574 628.9V729.6M612.3 628.9V729.6M650.5 628.9V729.6" stroke="#fff" stroke-width="1.25" fill="none"/>
<path d="M497.6 729.6V732.6M535.8 729.6V732.6M574 729.6V732.6M612.3 729.6V732.6M650.5 729.6V732.6" stroke="#333333" stroke-width="1.2" fill="none"/>
<g font-size="9.8" fill="#4d4d4d" text-anchor="middle">
<text transform="translate(497.6 742.9) scale(1 1.05)">NO2</text>
<text transform="translate(535.8 742.9) scale(1 1.05)">VOC</text>
<text transform="translate(574 742.9) scale(1 1.05)">O3</text>
<text transform="translate(612.3 742.9) scale(1 1.05)">NH3</text>
<text transform="translate(650.5 742.9) scale(1 1.05)">PM10</text>
</g>
<g clip-path="url(#c18)">
<circle cx="497.6" cy="688.1" r="2.5" fill="#333333"/>
<circle cx="497.6" cy="693.7" r="2.5" fill="#333333"/>
<circle cx="497.6" cy="695.95" r="2.5" fill="#333333"/>
<circle cx="497.6" cy="698.2" r="2.5" fill="#333333"/>
<circle cx="497.6" cy="703.4" r="2.5" fill="#333333"/>
<circle cx="497.6" cy="705.6" r="2.5" fill="#333333"/>
<circle cx="497.6" cy="707.8" r="2.5" fill="#333333"/>
<circle cx="497.6" cy="710" r="2.5" fill="#333333"/>
<circle cx="497.6" cy="712.2" r="2.5" fill="#333333"/>
<circle cx="497.6" cy="717.5" r="2.5" fill="#333333"/>
<path d="M482.8 700.3H512.4" stroke="#333333" stroke-width="2.8" fill="none"/>
<circle cx="535.8" cy="692.9" r="2.5" fill="#333333"/>
<circle cx="535.8" cy="695.18" r="2.5" fill="#333333"/>
<circle cx="535.8" cy="697.46" r="2.5" fill="#333333"/>
<circle cx="535.8" cy="699.74" r="2.5" fill="#333333"/>
<circle cx="535.8" cy="702.02" r="2.5" fill="#333333"/>
<circle cx="535.8" cy="704.3" r="2.5" fill="#333333"/>
<path d="M521 699.5H550.6" stroke="#333333" stroke-width="2.6" fill="none"/>
<circle cx="574" cy="699.3" r="2.5" fill="#333333"/>
<circle cx="574" cy="701.35" r="2.5" fill="#333333"/>
<circle cx="574" cy="703.4" r="2.5" fill="#333333"/>
<path d="M559.2 701.2H588.8" stroke="#333333" stroke-width="2.4" fill="none"/>
<path d="M612.3 696V706" stroke="#333333" stroke-width="1.25" fill="none"/>
<circle cx="612.3" cy="691.2" r="2.5" fill="#333333"/>
<circle cx="612.3" cy="693.9" r="2.5" fill="#333333"/>
<circle cx="612.3" cy="708.6" r="2.5" fill="#333333"/>
<circle cx="612.3" cy="710.5" r="2.5" fill="#333333"/>
<circle cx="612.3" cy="712.4" r="2.5" fill="#333333"/>
<circle cx="612.3" cy="719" r="2.5" fill="#333333"/>
<circle cx="612.3" cy="721" r="2.5" fill="#333333"/>
<circle cx="612.3" cy="723" r="2.5" fill="#333333"/>
<circle cx="612.3" cy="725" r="2.5" fill="#333333"/>
<circle cx="612.3" cy="727" r="2.5" fill="#333333"/>
<circle cx="612.3" cy="729" r="2.5" fill="#333333"/>
<rect x="598.1" y="700.5" width="28.4" height="3.1" fill="#3f5867" stroke="#333333" stroke-width="1.2"/>
<path d="M598.1 701.2H626.5" stroke="#333333" stroke-width="1.3" fill="none"/>
<circle cx="650.5" cy="692.9" r="2.5" fill="#333333"/>
<circle cx="650.5" cy="695.16" r="2.5" fill="#333333"/>
<circle cx="650.5" cy="697.41" r="2.5" fill="#333333"/>
<circle cx="650.5" cy="699.67" r="2.5" fill="#333333"/>
<circle cx="650.5" cy="701.93" r="2.5" fill="#333333"/>
<circle cx="650.5" cy="704.19" r="2.5" fill="#333333"/>
<circle cx="650.5" cy="706.44" r="2.5" fill="#333333"/>
<circle cx="650.5" cy="708.7" r="2.5" fill="#333333"/>
<path d="M635.7 700.7H665.3" stroke="#333333" stroke-width="2.6" fill="none"/>
</g>
</g>
<g stroke="#000" fill="none">
<path d="M30.5 2.2V745.6" stroke-width="2.3"/>
<path d="M270.8 0.9V744.6" stroke-width="2.5"/>
<path d="M472.55 0.9V744.3" stroke-width="2.5"/>
<path d="M4.1 19.9H683.2" stroke-width="2"/>
<path d="M4.1 261.9H683.2" stroke-width="1.9"/>
<path d="M4.1 504.2H683.6" stroke-width="1.7"/>
</g>
<g fill="#000" text-anchor="middle">
<text transform="translate(176.9 15.9)" font-size="15.1">URB-REF</text>
<text transform="translate(376.2 15.9)" font-size="15.1">AGR-REF</text>
<text transform="translate(584.5 15.9)" font-size="15.1">PARK-REF</text>
<text transform="translate(18.9 137.2) rotate(-90)" font-size="15.1">Dry deposition</text>
<text transform="translate(21.9 367.7) rotate(-90)" font-size="15.1">Biogenic emissions</text>
<text transform="translate(19.7 610.2) rotate(-90)" font-size="15.1">Air quality</text>
</g>
<text x="36.3" y="36.8" font-size="17" fill="#000">a)</text>
<text x="275.7" y="36.2" font-size="17" fill="#000">b)</text>
<text x="476.7" y="37" font-size="17" fill="#000">c)</text>
<text x="37.7" y="146.2" font-size="17" fill="#000">d)</text>
<text x="277.2" y="145.5" font-size="17" fill="#000">e)</text>
<text x="484.2" y="145.4" font-size="17" fill="#000">f)</text>
<text x="37.5" y="277" font-size="17" fill="#000">g)</text>
<text x="277.9" y="276.6" font-size="17" fill="#000">h)</text>
<text x="478.2" y="277.5" font-size="17" fill="#000">i)</text>
<text x="37.2" y="380.5" font-size="17" fill="#000">j)</text>
<text x="277.2" y="380.4" font-size="17" fill="#000">k)</text>
<text x="477.3" y="379.8" font-size="17" fill="#000">l)</text>
<text x="32.7" y="523" font-size="17" fill="#000">m)</text>
<text x="277.3" y="518.7" font-size="17" fill="#000">n)</text>
<text x="480.2" y="522" font-size="17" fill="#000">o)</text>
<text x="36.7" y="637" font-size="17" fill="#000">p)</text>
<text x="276.2" y="637" font-size="17" fill="#000">q)</text>
<text x="477.7" y="637" font-size="17" fill="#000">r)</text>
</svg>
</body>
</html>
